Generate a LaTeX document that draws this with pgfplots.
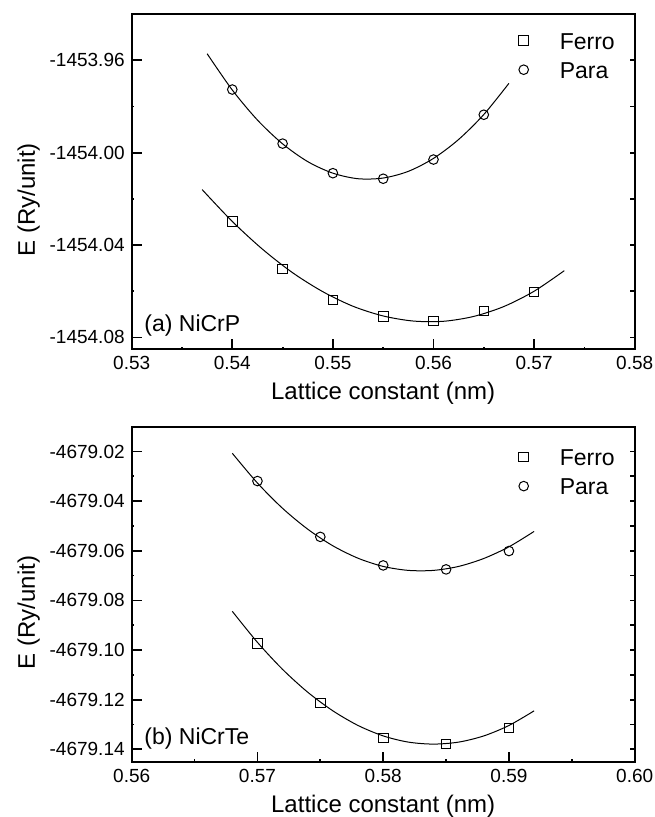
\documentclass[border=0pt]{standalone}
\usepackage{fontspec}
\setmainfont{Liberation Sans}
\usepackage{pgfplots}
\pgfplotsset{compat=1.18}

\pgfplotsset{
  shiftY/.style={y coord trafo/.code={\begingroup\pgfmathfloatparsenumber{##1}\pgfmathfloattofixed{\pgfmathresult}\let\tmpv\pgfmathresult\pgfkeys{/pgf/fpu=false}\pgfmathparse{\tmpv+#1}\global\let\myTrafoRes\pgfmathresult\endgroup\let\pgfmathresult\myTrafoRes}},
  panel/.style={
    scale only axis, width=251.5bp, height=167.5bp,
    scaled ticks=false,
    axis line style={line width=1bp},
    tick align=inside, xtick pos=lower, ytick pos=left,
    major tick length=5bp, minor tick length=1.2bp,
    every tick/.style={black, line width=0.9bp},
    minor x tick num=1, minor y tick num=1,
    tick label style={font=\fontsize{9.5bp}{11bp}\selectfont},
    label style={font=\fontsize{12bp}{14bp}\selectfont},
    xlabel={Lattice constant (nm)},
    ylabel={E (Ry/unit)},
    xlabel style={at={(axis description cs:0.5,-0.1522)}, anchor=base},
    ylabel style={at={(axis description cs:-0.1923,0.445)}, anchor=base},
    legend image code/.code={\draw[##1] plot coordinates {(0bp,0bp)}; \path (-6bp,0bp) (16.85bp,0bp);},
    legend style={draw=none, fill=none, inner sep=0pt, outer sep=0pt,
      font=\fontsize{11.5bp}{13bp}\selectfont,
      nodes={inner sep=1bp, text height=8.3bp, text depth=0bp},
      row sep=4.2bp, legend cell align=left},
  },
  rightticks/.style={
    scale only axis, width=251.5bp, height=167.5bp,
    scaled ticks=false,
    axis line style={draw=none},
    xtick=\empty, ytick pos=right,
    yticklabels={,,,,,,,,,,,,,,,},
    tick align=inside, major tick length=2.5bp,
    every tick/.style={black, line width=0.9bp},
  },
  mk/.style={only marks, black, mark size=2.4bp, mark options={line width=0.5bp, fill=none}},
  fit/.style={black, line width=0.5bp, smooth, no markers, forget plot},
}

\begin{document}
\begin{tikzpicture}
\useasboundingbox (0,0) rectangle (327.5bp,-408.5bp);

% ---------- (a) NiCrP ----------
\begin{axis}[panel, shiftY=1454,
  at={(65.85bp,-174.5bp)}, anchor=south west,
  xmin=0.53, xmax=0.58, ymin=-1454.085, ymax=-1453.94,
  xtick={0.53,0.54,0.55,0.56,0.57,0.58},
  xticklabels={0.53,0.54,0.55,0.56,0.57,0.58},
  ytick={-1454.08,-1454.04,-1454.00,-1453.96},
  yticklabels={-1454.08,-1454.04,-1454.00,-1453.96},
  legend style={at={(axis description cs:0.7547,0.951)}, anchor=north west},
]
\addplot[mk, mark=square] coordinates {
  (0.540,-1454.0298) (0.545,-1454.0504) (0.550,-1454.0638) (0.555,-1454.0710)
  (0.560,-1454.0728) (0.565,-1454.0685) (0.570,-1454.0604)};
\addlegendentry{Ferro}
\addplot[mk, mark=o] coordinates {
  (0.540,-1453.9727) (0.545,-1453.9961) (0.550,-1454.0089) (0.555,-1454.0113)
  (0.560,-1454.0030) (0.565,-1453.9836)};
\addlegendentry{Para}
\addplot[fit] coordinates {
  (0.537,-1454.0160) (0.540,-1454.0298) (0.543,-1454.0418) (0.546,-1454.0520)
  (0.549,-1454.0602) (0.552,-1454.0665) (0.555,-1454.0707) (0.558,-1454.0729)
  (0.561,-1454.0730) (0.564,-1454.0709) (0.567,-1454.0666) (0.570,-1454.0600)
  (0.573,-1454.0511)};
\addplot[fit] coordinates {
  (0.5375,-1453.9572) (0.5400,-1453.9729) (0.5425,-1453.9859) (0.5450,-1453.9962)
  (0.5475,-1454.0039) (0.5500,-1454.0089) (0.5525,-1454.0113) (0.5550,-1454.0110)
  (0.5575,-1454.0081) (0.5600,-1454.0025) (0.5625,-1453.9943) (0.5650,-1453.9835)
  (0.5675,-1453.9700)};
\node[anchor=base west, inner sep=0pt, font=\fontsize{11.5bp}{13bp}\selectfont]
  at (axis description cs:0.0245,0.0516) {(a) NiCrP};
\end{axis}
\begin{axis}[rightticks, shiftY=1454,
  at={(65.85bp,-174.5bp)}, anchor=south west,
  xmin=0.53, xmax=0.58, ymin=-1454.085, ymax=-1453.94,
  ytick={-1454.08,-1454.06,-1454.04,-1454.02,-1454.00,-1453.98,-1453.96},
]
\end{axis}

% ---------- (b) NiCrTe ----------
\begin{axis}[panel, shiftY=4679,
  at={(65.85bp,-380.85bp)}, anchor=south west,
  xmin=0.56, xmax=0.60, ymin=-4679.145, ymax=-4679.01,
  xtick={0.56,0.57,0.58,0.59,0.60},
  xticklabels={0.56,0.57,0.58,0.59,0.60},
  ytick={-4679.14,-4679.12,-4679.10,-4679.08,-4679.06,-4679.04,-4679.02},
  yticklabels={-4679.14,-4679.12,-4679.10,-4679.08,-4679.06,-4679.04,-4679.02},
  legend style={at={(axis description cs:0.7547,0.940)}, anchor=north west},
]
\addplot[mk, mark=square] coordinates {
  (0.570,-4679.0973) (0.575,-4679.1213) (0.580,-4679.1354) (0.585,-4679.1379)
  (0.590,-4679.1314)};
\addlegendentry{Ferro}
\addplot[mk, mark=o] coordinates {
  (0.570,-4679.0319) (0.575,-4679.0544) (0.580,-4679.0659) (0.585,-4679.0675)
  (0.590,-4679.0601)};
\addlegendentry{Para}
\addplot[fit] coordinates {
  (0.568,-4679.0844) (0.570,-4679.0969) (0.572,-4679.1078) (0.574,-4679.1170)
  (0.576,-4679.1245) (0.578,-4679.1304) (0.580,-4679.1346) (0.582,-4679.1371)
  (0.584,-4679.1379) (0.586,-4679.1371) (0.588,-4679.1346) (0.590,-4679.1304)
  (0.592,-4679.1245)};
\addplot[fit] coordinates {
  (0.568,-4679.0207) (0.570,-4679.0327) (0.572,-4679.0429) (0.574,-4679.0513)
  (0.576,-4679.0580) (0.578,-4679.0630) (0.580,-4679.0663) (0.582,-4679.0679)
  (0.584,-4679.0679) (0.586,-4679.0663) (0.588,-4679.0631) (0.590,-4679.0584)
  (0.592,-4679.0522)};
\node[anchor=base west, inner sep=0pt, font=\fontsize{11.5bp}{13bp}\selectfont]
  at (axis description cs:0.0245,0.0499) {(b) NiCrTe};
\end{axis}
\begin{axis}[rightticks, shiftY=4679,
  at={(65.85bp,-380.85bp)}, anchor=south west,
  xmin=0.56, xmax=0.60, ymin=-4679.145, ymax=-4679.01,
  ytick={-4679.14,-4679.13,-4679.12,-4679.11,-4679.10,-4679.09,-4679.08,-4679.07,-4679.06,-4679.05,-4679.04,-4679.03,-4679.02},
]
\end{axis}
\end{tikzpicture}
\end{document}
